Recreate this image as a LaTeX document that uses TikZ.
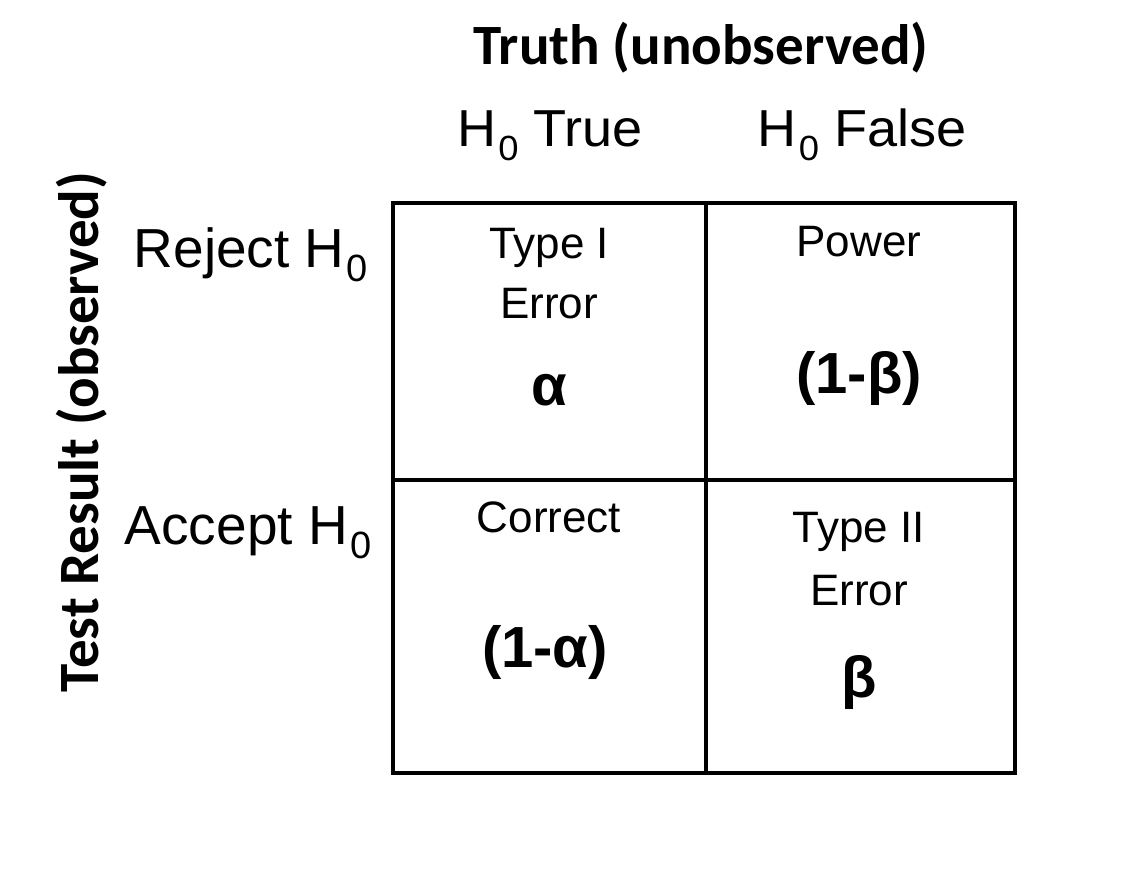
\documentclass[tikz,border=0pt]{standalone}
\usepackage{fontspec}
\setmainfont{Liberation Sans}
\newfontfamily\titlefont{Carlito}
\tikzset{
  grid/.style={line width=4bp, black},
  hdr/.style={font=\fontsize{52bp}{60bp}\selectfont, anchor=base, inner sep=0pt, xscale=1.04},
  rowlab/.style={font=\fontsize{55bp}{62bp}\selectfont, anchor=base, inner sep=0pt},
  ttl/.style={font=\titlefont\bfseries\fontsize{57bp}{64bp}\selectfont, anchor=base, inner sep=0pt},
  cell/.style={font=\fontsize{44bp}{52bp}\selectfont, anchor=base, inner sep=0pt},
  val/.style={font=\bfseries\fontsize{58bp}{66bp}\selectfont, anchor=base, inner sep=0pt},
}
\newcommand{\Hsub}[1]{H\kern0.04em\raisebox{-0.27em}{\fontsize{#1}{#1}\selectfont 0}}
\begin{document}
\begin{tikzpicture}[x=1bp,y=-1bp]
\useasboundingbox (0,0) rectangle (1126,886);
% grid
\coordinate (tl) at (393,203);
\coordinate (br) at (1015,773);
\coordinate (mt) at (706,203);
\coordinate (mb) at (706,773);
\coordinate (ml) at (393,480);
\coordinate (mr) at (1015,480);
\draw[grid] (tl) rectangle (br);
\draw[grid] (mt) -- (mb);
\draw[grid] (ml) -- (mr);
% titles
\node[ttl] (truth) at (701,64) {Truth (unobserved)};
\node[ttl, rotate=90] (test) at (98,432) {Test Result (observed)};
\node[hdr] (htrue) at (550,146) {\Hsub{35bp} True};
\node[hdr] (hfalse) at (862,146) {\Hsub{35bp} False};
\node[rowlab] (rej) at (251,267) {Reject \Hsub{38bp}};
\node[rowlab] (acc) at (248,544) {Accept \Hsub{38bp}};
% cells
\node[cell] (t1a) at (549,258) {Type I};
\node[cell] (t1b) at (549,318) {Error};
\node[val] (alpha) at (549,405) {α};
\node[cell] (pow) at (859,256) {Power};
\node[val] (omb) at (859,393) {(1-β)};
\node[cell] (cor) at (549,532) {Correct};
\node[val] (oma) at (545,667) {(1-α)};
\node[cell] (t2a) at (859,542) {Type II};
\node[cell] (t2b) at (859,605) {Error};
\node[val] (beta) at (859,697) {β};
\end{tikzpicture}
\end{document}
